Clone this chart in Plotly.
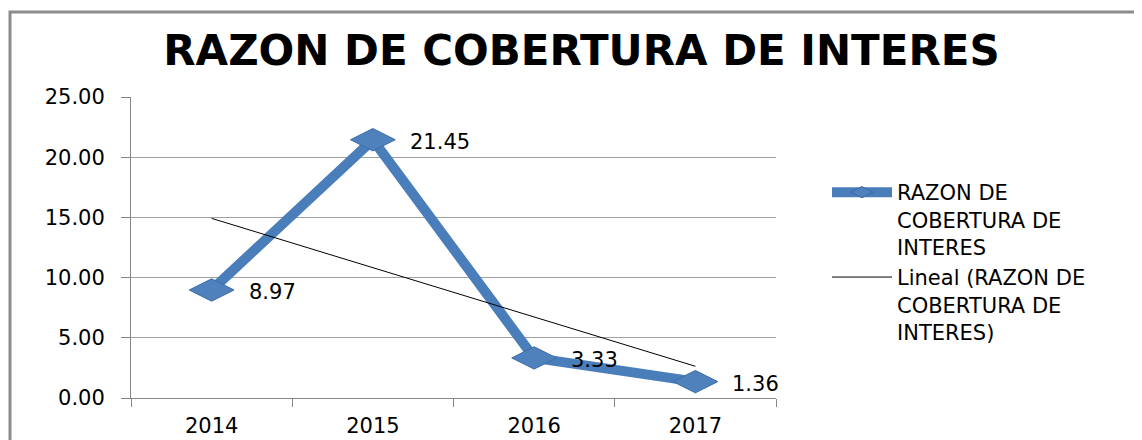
import numpy as np
import plotly.graph_objects as go

years = ["2014", "2015", "2016", "2017"]
values = [8.97, 21.45, 3.33, 1.36]
labels = ["8.97", "21.45", "3.33", "1.36"]
series_name = "RAZON DE<br>COBERTURA DE<br>INTERES"
trend_name = "Lineal (RAZON DE<br>COBERTURA DE<br>INTERES)"
title_text = "RAZON DE COBERTURA DE INTERES"

# Linear trendline computed from the data (as the spreadsheet does)
xi = np.arange(len(values))
slope, intercept = np.polyfit(xi, values, 1)
trend = list(slope * xi + intercept)

FONT = "DejaVu Sans"
OX, OY = 8, 8                      # page body margin offset
W, H = 1142 - OX, 440 - OY         # figure size
# plot area in screen pixels
L, R, T, B = 131, 776, 97, 398
l, r, t, b = L - OX, R - OX, T - OY, B - OY
pw, ph = r - l, b - t

def px(xs):   # screen x -> paper x
    return (xs - OX - l) / pw

def py(ys):   # screen y -> paper y
    return (b - (ys - OY)) / ph

fig = go.Figure()
fig.add_trace(go.Scatter(
    x=years, y=values, name=series_name, mode="lines+markers",
    line=dict(color="#4A7EBB", width=10),
    marker=dict(symbol="diamond-wide", size=32, color="#4F81BD",
                line=dict(color="#3B6CA8", width=1)),
))
fig.add_trace(go.Scatter(
    x=years, y=trend, name=trend_name, mode="lines",
    line=dict(color="#000000", width=1),
))

for i, (v, lab) in enumerate(zip(values, labels)):
    fig.add_annotation(x=i, y=v, xref="x", yref="y", text=lab, showarrow=False,
                       xanchor="left", yanchor="middle", xshift=35, yshift=-2,
                       font=dict(family=FONT, size=21, color="#000000"))

# outer chart frame
fig.add_shape(type="rect", xref="paper", yref="paper",
              x0=px(10), x1=px(1160), y0=py(460), y1=py(12),
              line=dict(color="#8C8C8C", width=3), fillcolor="rgba(0,0,0,0)",
              layer="below")

fig.update_layout(
    width=W, height=H,
    margin=dict(l=l, r=W - r, t=t, b=H - b, pad=0, autoexpand=False),
    paper_bgcolor="white", plot_bgcolor="white",
    title=dict(text="<b>" + title_text + "</b>", x=((163 + 1000) / 2 - OX) / W, xanchor="center",
               y=1 - (50 - OY) / H, yanchor="middle",
               font=dict(family=FONT, size=42, color="#000000")),
    font=dict(family=FONT, size=21, color="#000000"),
    showlegend=True,
    legend=dict(x=px(827), xanchor="left", y=py(172), yanchor="top",
                valign="top",
                font=dict(family=FONT, size=21, color="#000000"),
                itemwidth=60, tracegroupgap=14, bgcolor="rgba(0,0,0,0)"),
    xaxis=dict(type="category", range=[-0.5, 3.5], showgrid=False,
               showline=True, linecolor="#868686", linewidth=1,
               ticks="outside", tickson="boundaries", ticklen=8, tickcolor="#868686",
               ticklabelstandoff=9,
               tickfont=dict(family=FONT, size=21, color="#000000")),
    yaxis=dict(range=[0, 25], dtick=5, tickformat=".2f", showgrid=True,
               gridcolor="#A0A0A0", gridwidth=1, zeroline=False,
               showline=True, linecolor="#868686", linewidth=1,
               ticks="outside", ticklen=9, tickcolor="#868686",
               ticklabelstandoff=12,
               tickfont=dict(family=FONT, size=21, color="#000000")),
)

fig.write_html("out.html")
